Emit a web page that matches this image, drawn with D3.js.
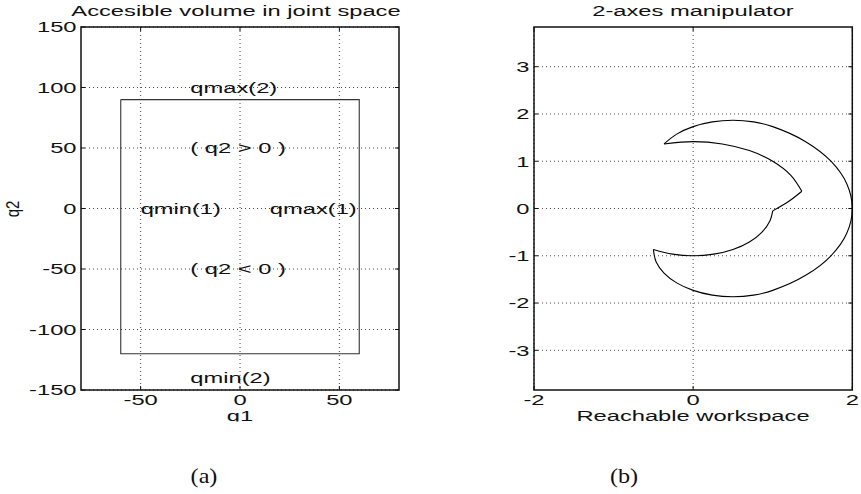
<!DOCTYPE html>
<html>
<head>
<meta charset="utf-8">
<script src="https://cdn.jsdelivr.net/npm/d3@7"></script>
<style>
  html, body { margin: 0; padding: 0; background: #fff; }
  svg { display: block; }
  text { font-family: "Liberation Sans", Arial, Helvetica, sans-serif; fill: #111; }
</style>
</head>
<body>
<svg id="chart" width="861" height="494"></svg>
<script>
// ---------- Data: panel (a) joint space ----------
const titleA = "Accesible volume in joint space";
const xLabelA = "q1";
const yLabelA = "q2";
const q1Domain = [-80, 80];
const q2Domain = [-150, 150];
const q1Ticks = [-50, 0, 50];
const q2Ticks = [-150, -100, -50, 0, 50, 100, 150];
const limitQ1 = [-60, 60, 60, -60, -60];
const limitQ2 = [90, 90, -120, -120, 90];
const annotText = ["qmax(2)", "( q2 > 0 )", "qmin(1)", "qmax(1)", "( q2 < 0 )", "qmin(2)"];
const annotQ1 = [-25, -25, -50, 15, -25, -25];
const annotQ2 = [100, 50, 0, 0, -50, -140];

// ---------- Data: panel (b) workspace ----------
const titleB = "2-axes manipulator";
const xLabelB = "Reachable workspace";
const xDomainB = [-2, 2];
const yDomainB = [-3.84, 3.84];
const xTicksB = [-2, 0, 2];
const yTicksB = [-3, -2, -1, 0, 1, 2, 3];
// outer boundary (upper cusp -> right -> lower cusp)
const outerX = [-0.366, -0.207, 0, 0.241, 0.5, 0.759, 1.0, 1.414, 1.732, 1.932, 2.0, 1.932, 1.732, 1.414, 1.0, 0.759, 0.5, 0.241, 0, -0.207, -0.366, -0.466, -0.5];
const outerY = [1.366, 1.573, 1.732, 1.832, 1.866, 1.832, 1.732, 1.414, 1.0, 0.518, 0, -0.518, -1.0, -1.414, -1.732, -1.832, -1.866, -1.832, -1.732, -1.573, -1.366, -1.125, -0.866];
// inner boundary pieces
const innerLowX = [-0.5, -0.259, 0, 0.259, 0.5, 0.707, 0.866, 0.966, 1.0];
const innerLowY = [-0.866, -0.966, -1.0, -0.966, -0.866, -0.707, -0.5, -0.259, -0.05];
const innerMidX = [1.0, 1.207, 1.366];
const innerMidY = [-0.05, 0.159, 0.366];
const innerUpX = [1.366, 1.225, 1.0, 0.707, 0.366, 0, -0.366];
const innerUpY = [0.366, 0.707, 1.0, 1.225, 1.366, 1.414, 1.366];

const captions = ["(a)", "(b)"];

// ---------- Layout ----------
const SX = 1.58;          // horizontal stretch of the scanned figure text
const FS = 15;
const svg = d3.select("#chart");

function stext(g, x, y, str, anchor, opts = {}) {
  const t = g.append("text")
    .attr("transform", `translate(${x},${y}) scale(${opts.sx || SX},1)` + (opts.rotate ? ` rotate(${opts.rotate})` : ""))
    .attr("text-anchor", anchor)
    .style("font-size", (opts.fs || FS) + "px")
    .text(str);
  if (opts.dy) t.attr("dy", opts.dy);
  if (opts.family) t.style("font-family", opts.family);
  return t;
}

function panel(box, xDom, yDom, xTicks, yTicks, xGrid, yGrid) {
  const x = d3.scaleLinear().domain(xDom).range([box.l, box.r]);
  const y = d3.scaleLinear().domain(yDom).range([box.b, box.t]);
  const g = svg.append("g");
  // grid
  g.selectAll("line.gx").data(xGrid).join("line")
    .attr("x1", d => x(d)).attr("x2", d => x(d))
    .attr("y1", box.t).attr("y2", box.b)
    .attr("stroke", "#333").attr("stroke-width", 0.9).attr("stroke-dasharray", "1,3");
  g.selectAll("line.gy").data(yGrid).join("line")
    .attr("y1", d => y(d)).attr("y2", d => y(d))
    .attr("x1", box.l).attr("x2", box.r)
    .attr("stroke", "#333").attr("stroke-width", 0.9).attr("stroke-dasharray", "1,3");
  // inward ticks
  const tl = 4;
  xTicks.forEach(d => {
    g.append("line").attr("x1", x(d)).attr("x2", x(d)).attr("y1", box.b).attr("y2", box.b - tl).attr("stroke", "#111");
    g.append("line").attr("x1", x(d)).attr("x2", x(d)).attr("y1", box.t).attr("y2", box.t + tl).attr("stroke", "#111");
  });
  yTicks.forEach(d => {
    g.append("line").attr("y1", y(d)).attr("y2", y(d)).attr("x1", box.l).attr("x2", box.l + tl).attr("stroke", "#111");
    g.append("line").attr("y1", y(d)).attr("y2", y(d)).attr("x1", box.r).attr("x2", box.r - tl).attr("stroke", "#111");
  });
  // frame
  g.append("rect").attr("x", box.l).attr("y", box.t)
    .attr("width", box.r - box.l).attr("height", box.b - box.t)
    .attr("fill", "none").attr("stroke", "#111").attr("stroke-width", 1.5);
  // tick labels
  xTicks.forEach(d => stext(g, x(d), 405, String(d), "middle"));
  yTicks.forEach(d => stext(g, box.l - 4.5, y(d), String(d), "end", { dy: "0.36em" }));
  return { x, y, g };
}

// ---------- Panel (a) ----------
const A = panel({ l: 81, r: 399, t: 27, b: 390 }, q1Domain, q2Domain, q1Ticks, q2Ticks, q1Ticks, q2Ticks);
const rectLine = d3.line().x(d => A.x(d[0])).y(d => A.y(d[1]));
A.g.append("path")
  .attr("d", rectLine(limitQ1.map((v, i) => [v, limitQ2[i]])))
  .attr("fill", "none").attr("stroke", "#333").attr("stroke-width", 1.1);
annotText.forEach((s, i) => stext(A.g, A.x(annotQ1[i]), A.y(annotQ2[i]), s, "start", { dy: "0.36em" }));
stext(A.g, 236, 16, titleA, "middle");
stext(A.g, 240, 420.5, xLabelA, "middle");
stext(A.g, 18.5, 209, yLabelA, "middle", { rotate: -90, sx: 1.25 });

// ---------- Panel (b) ----------
const B = panel({ l: 534, r: 852.3, t: 27, b: 390 }, xDomainB, yDomainB, xTicksB, yTicksB, xTicksB, yTicksB);
const curve = d3.line().x(d => B.x(d[0])).y(d => B.y(d[1])).curve(d3.curveCatmullRom.alpha(0.5));
[[outerX, outerY], [innerLowX, innerLowY], [innerMidX, innerMidY], [innerUpX, innerUpY]].forEach(([xs, ys]) => {
  B.g.append("path")
    .attr("d", curve(xs.map((v, i) => [v, ys[i]])))
    .attr("fill", "none").attr("stroke", "#000").attr("stroke-width", 1.1);
});
stext(B.g, 693, 16, titleB, "middle");
stext(B.g, 693, 421, xLabelB, "middle");

// clip of the scanned figure below the x labels
svg.append("rect").attr("x", 0).attr("y", 421.5).attr("width", 861).attr("height", 20).attr("fill", "#fff");

// ---------- Captions ----------
const capX = [204, 624];
captions.forEach((c, i) => stext(svg, capX[i], 483, c, "middle", { sx: 1.1, fs: 22, family: "'Liberation Serif', 'Times New Roman', serif" }));
</script>
</body>
</html>
